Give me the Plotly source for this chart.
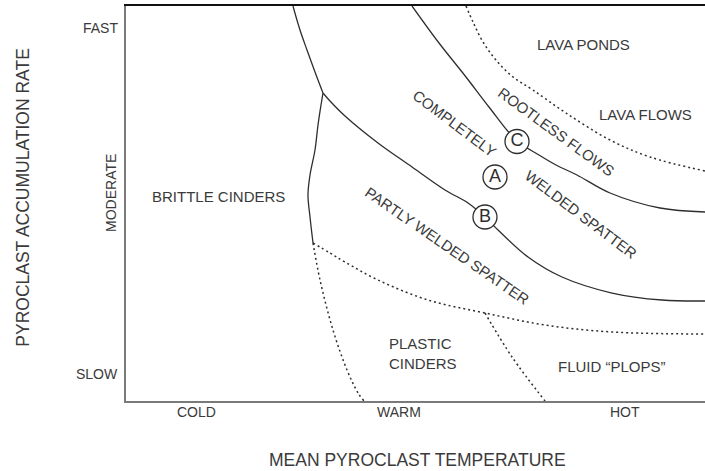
import plotly.graph_objects as go

# ---- Schematic data (temperature index 0-100, accumulation-rate index 0-100) ----
# Solid boundary: brittle cinders (upper part, fast rates)
cinder_top_x = [28.84, 30.05, 31.26, 32.64, 34.02]
cinder_top_y = [100.0, 93.92, 88.86, 83.29, 77.97]

# Solid boundary: brittle cinders vs partly welded spatter (moderate rates)
cinder_mid_x = [34.02, 33.68, 33.16, 32.64, 31.78, 31.43, 31.78, 32.30]
cinder_mid_y = [77.97, 74.94, 69.87, 63.54, 57.22, 52.15, 46.58, 40.00]

# Dotted boundary: brittle vs plastic cinders (slow rates)
cinder_low_x = [32.30, 33.51, 35.75, 38.17, 40.07, 41.11]
cinder_low_y = [40.00, 30.63, 17.97, 7.85, 2.03, 0.0]

# Dotted boundary: spatter vs plastic cinders / fluid plops
plops_top_x = [32.30, 35.23, 37.82, 43.52, 52.16, 62.00, 72.37, 83.94, 100.0]
plops_top_y = [40.00, 37.47, 35.19, 30.63, 25.57, 22.28, 19.24, 17.47, 16.96]

# Dotted boundary: plastic cinders vs fluid plops
plops_side_x = [62.00, 66.67, 72.37]
plops_side_y = [22.28, 11.14, 0.0]

# Solid boundary B: partly welded vs completely welded spatter
curve_b_x = [34.02, 35.23, 37.82, 43.52, 49.40, 55.09, 59.07, 62.00, 64.25,
             69.43, 75.30, 83.94, 92.57, 100.0]
curve_b_y = [77.97, 75.95, 72.15, 65.32, 59.24, 53.42, 50.13, 46.58, 43.29,
             36.46, 31.39, 27.34, 25.57, 25.32]

# Solid boundary C: completely welded spatter vs rootless flows
curve_c_x = [49.40, 54.06, 58.72, 62.69, 67.36, 71.33, 74.27, 77.89, 83.59, 92.23, 100.0]
curve_c_y = [100.0, 90.63, 82.03, 74.43, 66.08, 62.28, 59.75, 57.22, 52.66, 48.86, 47.85]

# Dotted boundary: rootless flows vs lava ponds / lava flows
lava_x = [58.72, 59.93, 61.66, 63.90, 66.84, 70.29, 75.99, 83.59, 90.50, 100.0]
lava_y = [100.0, 95.95, 90.89, 86.33, 82.03, 78.73, 72.91, 66.08, 61.77, 58.23]

# Marked points
point_labels = ["C", "A", "B"]
point_x = [67.53, 63.73, 62.00]
point_y = [65.70, 56.71, 46.58]

# Region labels
region_text = ["BRITTLE CINDERS", "LAVA PONDS", "LAVA FLOWS", "ROOTLESS FLOWS",
               "COMPLETELY", "WELDED SPATTER", "PARTLY WELDED SPATTER",
               "FLUID \u201cPLOPS\u201d"]
region_x = [16.06, 78.93, 89.64, 74.27, 56.82, 78.58, 55.44, 83.94]
region_y = [51.90, 90.13, 72.41, 68.35, 70.38, 47.09, 39.49, 8.61]
region_angle = [0, 0, 0, 36, 37, 37, 34.5, 0]

plastic_text = "PLASTIC<br>CINDERS"
plastic_x = 45.08
plastic_y = 12.03

# Axis category labels (positions along the axis, in axis units)
x_tick_labels = ["COLD", "WARM", "HOT"]
x_tick_pos = [12.26, 47.15, 86.18]
y_tick_labels = ["FAST", "MODERATE", "SLOW"]
y_tick_pos = [94.43, 52.66, 6.84]

x_title = "MEAN PYROCLAST TEMPERATURE"
y_title = "PYROCLAST ACCUMULATION RATE"

LINE = "#2e2e2e"
TEXT = "#3a3a3a"
FONT = "Liberation Sans, Arial, sans-serif"
DOT = "2px,3px"

fig = go.Figure()

def add_line(x, y, dash="solid", width=1.3):
    fig.add_trace(go.Scatter(x=x, y=y, mode="lines", line_shape="spline",
                             line=dict(color=LINE, width=width, dash=dash),
                             hoverinfo="skip", showlegend=False))

add_line(cinder_top_x, cinder_top_y)
add_line(cinder_mid_x, cinder_mid_y)
add_line(cinder_low_x, cinder_low_y, dash=DOT, width=1.5)
add_line(plops_top_x, plops_top_y, dash=DOT, width=1.5)
add_line(plops_side_x, plops_side_y, dash=DOT, width=1.5)
add_line(curve_b_x, curve_b_y)
add_line(curve_c_x, curve_c_y)
add_line(lava_x, lava_y, dash=DOT, width=1.5)

fig.add_trace(go.Scatter(
    x=point_x, y=point_y, mode="markers+text", text=point_labels,
    textposition="middle center",
    textfont=dict(family=FONT, size=18, color=LINE),
    marker=dict(symbol="circle", size=24, color="white",
                line=dict(color=LINE, width=1.3)),
    hoverinfo="skip", showlegend=False, cliponaxis=False))

for t, x, y, a in zip(region_text, region_x, region_y, region_angle):
    fig.add_annotation(x=x, y=y, text=t, textangle=a, showarrow=False,
                       xanchor="center", yanchor="middle",
                       font=dict(family=FONT, size=15, color=TEXT))

fig.add_annotation(x=plastic_x, y=plastic_y, text=plastic_text, showarrow=False,
                   xanchor="left", yanchor="middle", align="left",
                   font=dict(family=FONT, size=15, color=TEXT))

# x category labels: data x, paper y (just below the axis)
for t, x in zip(x_tick_labels, x_tick_pos):
    fig.add_annotation(x=x, xref="x", y=-0.028, yref="paper", text=t,
                       xanchor="center", yanchor="middle", showarrow=False,
                       font=dict(family=FONT, size=14, color=TEXT))

# y category labels: paper x (left of the axis), data y
for t, y in zip(y_tick_labels, y_tick_pos):
    if t == "MODERATE":
        fig.add_annotation(x=-0.026, xref="paper", y=y, yref="y", text=t,
                           textangle=-90, xanchor="center", yanchor="middle",
                           showarrow=False,
                           font=dict(family=FONT, size=14, color=TEXT))
    else:
        fig.add_annotation(x=-0.0104, xref="paper", y=y, yref="y", text=t,
                           xanchor="right", yanchor="middle", showarrow=False,
                           font=dict(family=FONT, size=14, color=TEXT))

fig.add_annotation(xref="paper", yref="paper", x=0.504, y=-0.149, text=x_title,
                   xanchor="center", yanchor="middle", showarrow=False,
                   font=dict(family=FONT, size=17.5, color=TEXT))
fig.add_annotation(xref="paper", yref="paper", x=-0.177, y=0.516, text=y_title,
                   textangle=-90, xanchor="center", yanchor="middle",
                   showarrow=False,
                   font=dict(family=FONT, size=17.5, color=TEXT))

fig.update_layout(
    width=705, height=471,
    margin=dict(l=126, r=0, t=6, b=70),
    paper_bgcolor="white", plot_bgcolor="white",
    xaxis=dict(range=[0, 100], showgrid=False, zeroline=False, showticklabels=False,
               ticks="", showline=True, linecolor="#7a7a7a", linewidth=2,
               fixedrange=True),
    xaxis2=dict(range=[0, 100], overlaying="x", side="top", showgrid=False,
                zeroline=False, showticklabels=False, ticks="", showline=True,
                linecolor="#111111", linewidth=2, fixedrange=True),
    yaxis=dict(range=[0, 100], showgrid=False, zeroline=False, showticklabels=False,
               ticks="", showline=True, linecolor="#7a7a7a", linewidth=2,
               fixedrange=True),
)
# invisible trace so the top axis line is drawn
fig.add_trace(go.Scatter(x=[0, 100], y=[0, 0], xaxis="x2", mode="lines",
                         line=dict(width=0), hoverinfo="skip", showlegend=False))

fig.write_html("out.html", config={"displayModeBar": False},
               post_script="document.body.style.margin='0';")
